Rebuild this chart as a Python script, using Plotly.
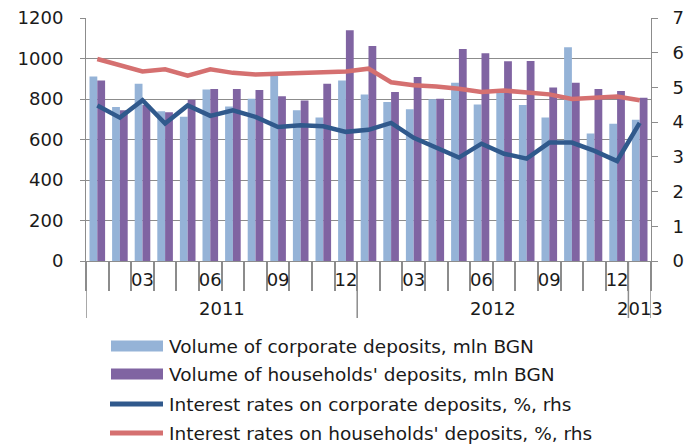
import plotly.graph_objects as go

# Monthly observations, Jan 2011 - Jan 2013
periods = list(range(25))
years = ["2011", "2012", "2013"]
tick_positions = [2, 5, 8, 11, 14, 17, 20, 23]
tick_labels = ["03", "06", "09", "12", "03", "06", "09", "12"]

corporate_volume = [911, 760, 875, 739, 712, 847, 763, 801, 927, 745, 709, 891,
                    822, 785, 750, 799, 880, 773, 842, 770, 709, 1056, 630, 678, 698]
household_volume = [891, 744, 770, 734, 796, 850, 849, 845, 814, 793, 875, 1139,
                    1062, 834, 909, 801, 1047, 1026, 987, 988, 857, 880, 850, 839, 806]
corporate_rate = [4.48, 4.13, 4.63, 3.96, 4.48, 4.18, 4.34, 4.15, 3.86, 3.91, 3.88, 3.72,
                  3.78, 3.98, 3.55, 3.27, 2.98, 3.38, 3.09, 2.95, 3.41, 3.41, 3.17, 2.88, 3.98]
household_rate = [5.82, 5.63, 5.46, 5.52, 5.34, 5.52, 5.42, 5.37, 5.39, 5.39, 5.41, 5.46,
                  5.54, 5.15, 5.06, 5.03, 4.96, 4.87, 4.91, 4.85, 4.80, 4.67, 4.70, 4.74, 4.63]

series_names = [
    "Volume of corporate deposits, mln BGN",
    "Volume of households' deposits, mln BGN",
    "Interest rates on corporate deposits, %, rhs",
    "Interest rates on households' deposits, %, rhs",
]

C_CORP_BAR = "#95B3D7"
C_HH_BAR = "#8064A2"
C_CORP_LINE = "#30598C"
C_HH_LINE = "#D57070"
GRID = "#8C8C8C"
FONT = "DejaVu Sans"
TXT = "#1a1a1a"

fig = go.Figure()
fig.add_trace(go.Bar(x=periods, y=corporate_volume, name=series_names[0],
                     marker=dict(color=C_CORP_BAR, line=dict(width=0))))
fig.add_trace(go.Bar(x=periods, y=household_volume, name=series_names[1],
                     marker=dict(color=C_HH_BAR, line=dict(width=0))))
fig.add_trace(go.Scatter(x=periods, y=corporate_rate, name=series_names[2], yaxis="y2",
                         mode="lines", line=dict(color=C_CORP_LINE, width=4.5)))
fig.add_trace(go.Scatter(x=periods, y=household_rate, name=series_names[3], yaxis="y2",
                         mode="lines", line=dict(color=C_HH_LINE, width=4.5)))

L, R, T, B = 86, 34, 18, 184
W, H = 685, 445
pw, ph = W - L - R, H - T - B


def px_x(px):
    return (px - L) / pw


def px_y(py):
    return (H - B - py) / ph


fig.update_layout(
    width=W, height=H,
    margin=dict(l=L, r=R, t=T, b=B, autoexpand=False),
    paper_bgcolor="white", plot_bgcolor="white",
    barmode="group", bargap=0.31, bargroupgap=0,
    showlegend=False,
    font=dict(family=FONT, size=18, color=TXT),
    xaxis=dict(
        range=[-0.5, 24.5], tickmode="array",
        tickvals=tick_positions, ticktext=tick_labels,
        ticks="", ticklabelstandoff=2, automargin=False,
        showline=True, linecolor=GRID, linewidth=1,
        showgrid=False, zeroline=False,
        tickfont=dict(size=18),
        minor=dict(tickmode="array", tickvals=[p - 0.5 for p in periods + [25]],
                   ticks="outside", ticklen=29, tickcolor=GRID, tickwidth=1.5,
                   showgrid=False),
    ),
    yaxis=dict(
        range=[0, 1200], dtick=200, automargin=False,
        showgrid=True, gridcolor=GRID, gridwidth=1,
        showline=True, linecolor=GRID, linewidth=1,
        ticks="outside", ticklen=5, tickcolor=GRID,
        ticklabelstandoff=13, zeroline=False,
        tickfont=dict(size=18),
    ),
    yaxis2=dict(
        range=[0, 7], dtick=1, overlaying="y", side="right", automargin=False,
        showgrid=False, showline=True, linecolor=GRID, linewidth=1,
        ticks="outside", ticklen=6, tickcolor=GRID,
        ticklabelstandoff=11, zeroline=False,
        tickfont=dict(size=18),
    ),
)

# Year separators spanning the second category level
shapes = []
for xb in [-0.5, 11.5, 23.5, 24.5]:
    shapes.append(dict(type="line", xref="x", yref="paper", x0=xb, x1=xb,
                       y0=0, y1=px_y(318), line=dict(color=GRID, width=1.5)))

annotations = []
for label, xc in zip(years, [5.5, 17.5, 24.0]):
    annotations.append(dict(text=label, xref="x", yref="paper", x=xc, y=px_y(308),
                            showarrow=False, xanchor="center", yanchor="middle",
                            font=dict(size=18, color=TXT)))

# Legend drawn below the chart
rows_y = [346, 374, 404, 433]
for i, (name, yc) in enumerate(zip(series_names, rows_y)):
    if i < 2:
        shapes.append(dict(type="rect", xref="paper", yref="paper",
                           x0=px_x(111), x1=px_x(163), y0=px_y(yc - 5.5), y1=px_y(yc + 5.5),
                           fillcolor=[C_CORP_BAR, C_HH_BAR][i], line=dict(width=0)))
    else:
        shapes.append(dict(type="line", xref="paper", yref="paper",
                           x0=px_x(110), x1=px_x(163), y0=px_y(yc), y1=px_y(yc),
                           line=dict(color=[C_CORP_LINE, C_HH_LINE][i - 2], width=5)))
    annotations.append(dict(text=name, xref="paper", yref="paper",
                            x=px_x(167), y=px_y(yc), showarrow=False,
                            xanchor="left", yanchor="middle",
                            font=dict(size=18.5, color=TXT)))

fig.update_layout(shapes=shapes, annotations=annotations)
fig.write_html("out.html")
